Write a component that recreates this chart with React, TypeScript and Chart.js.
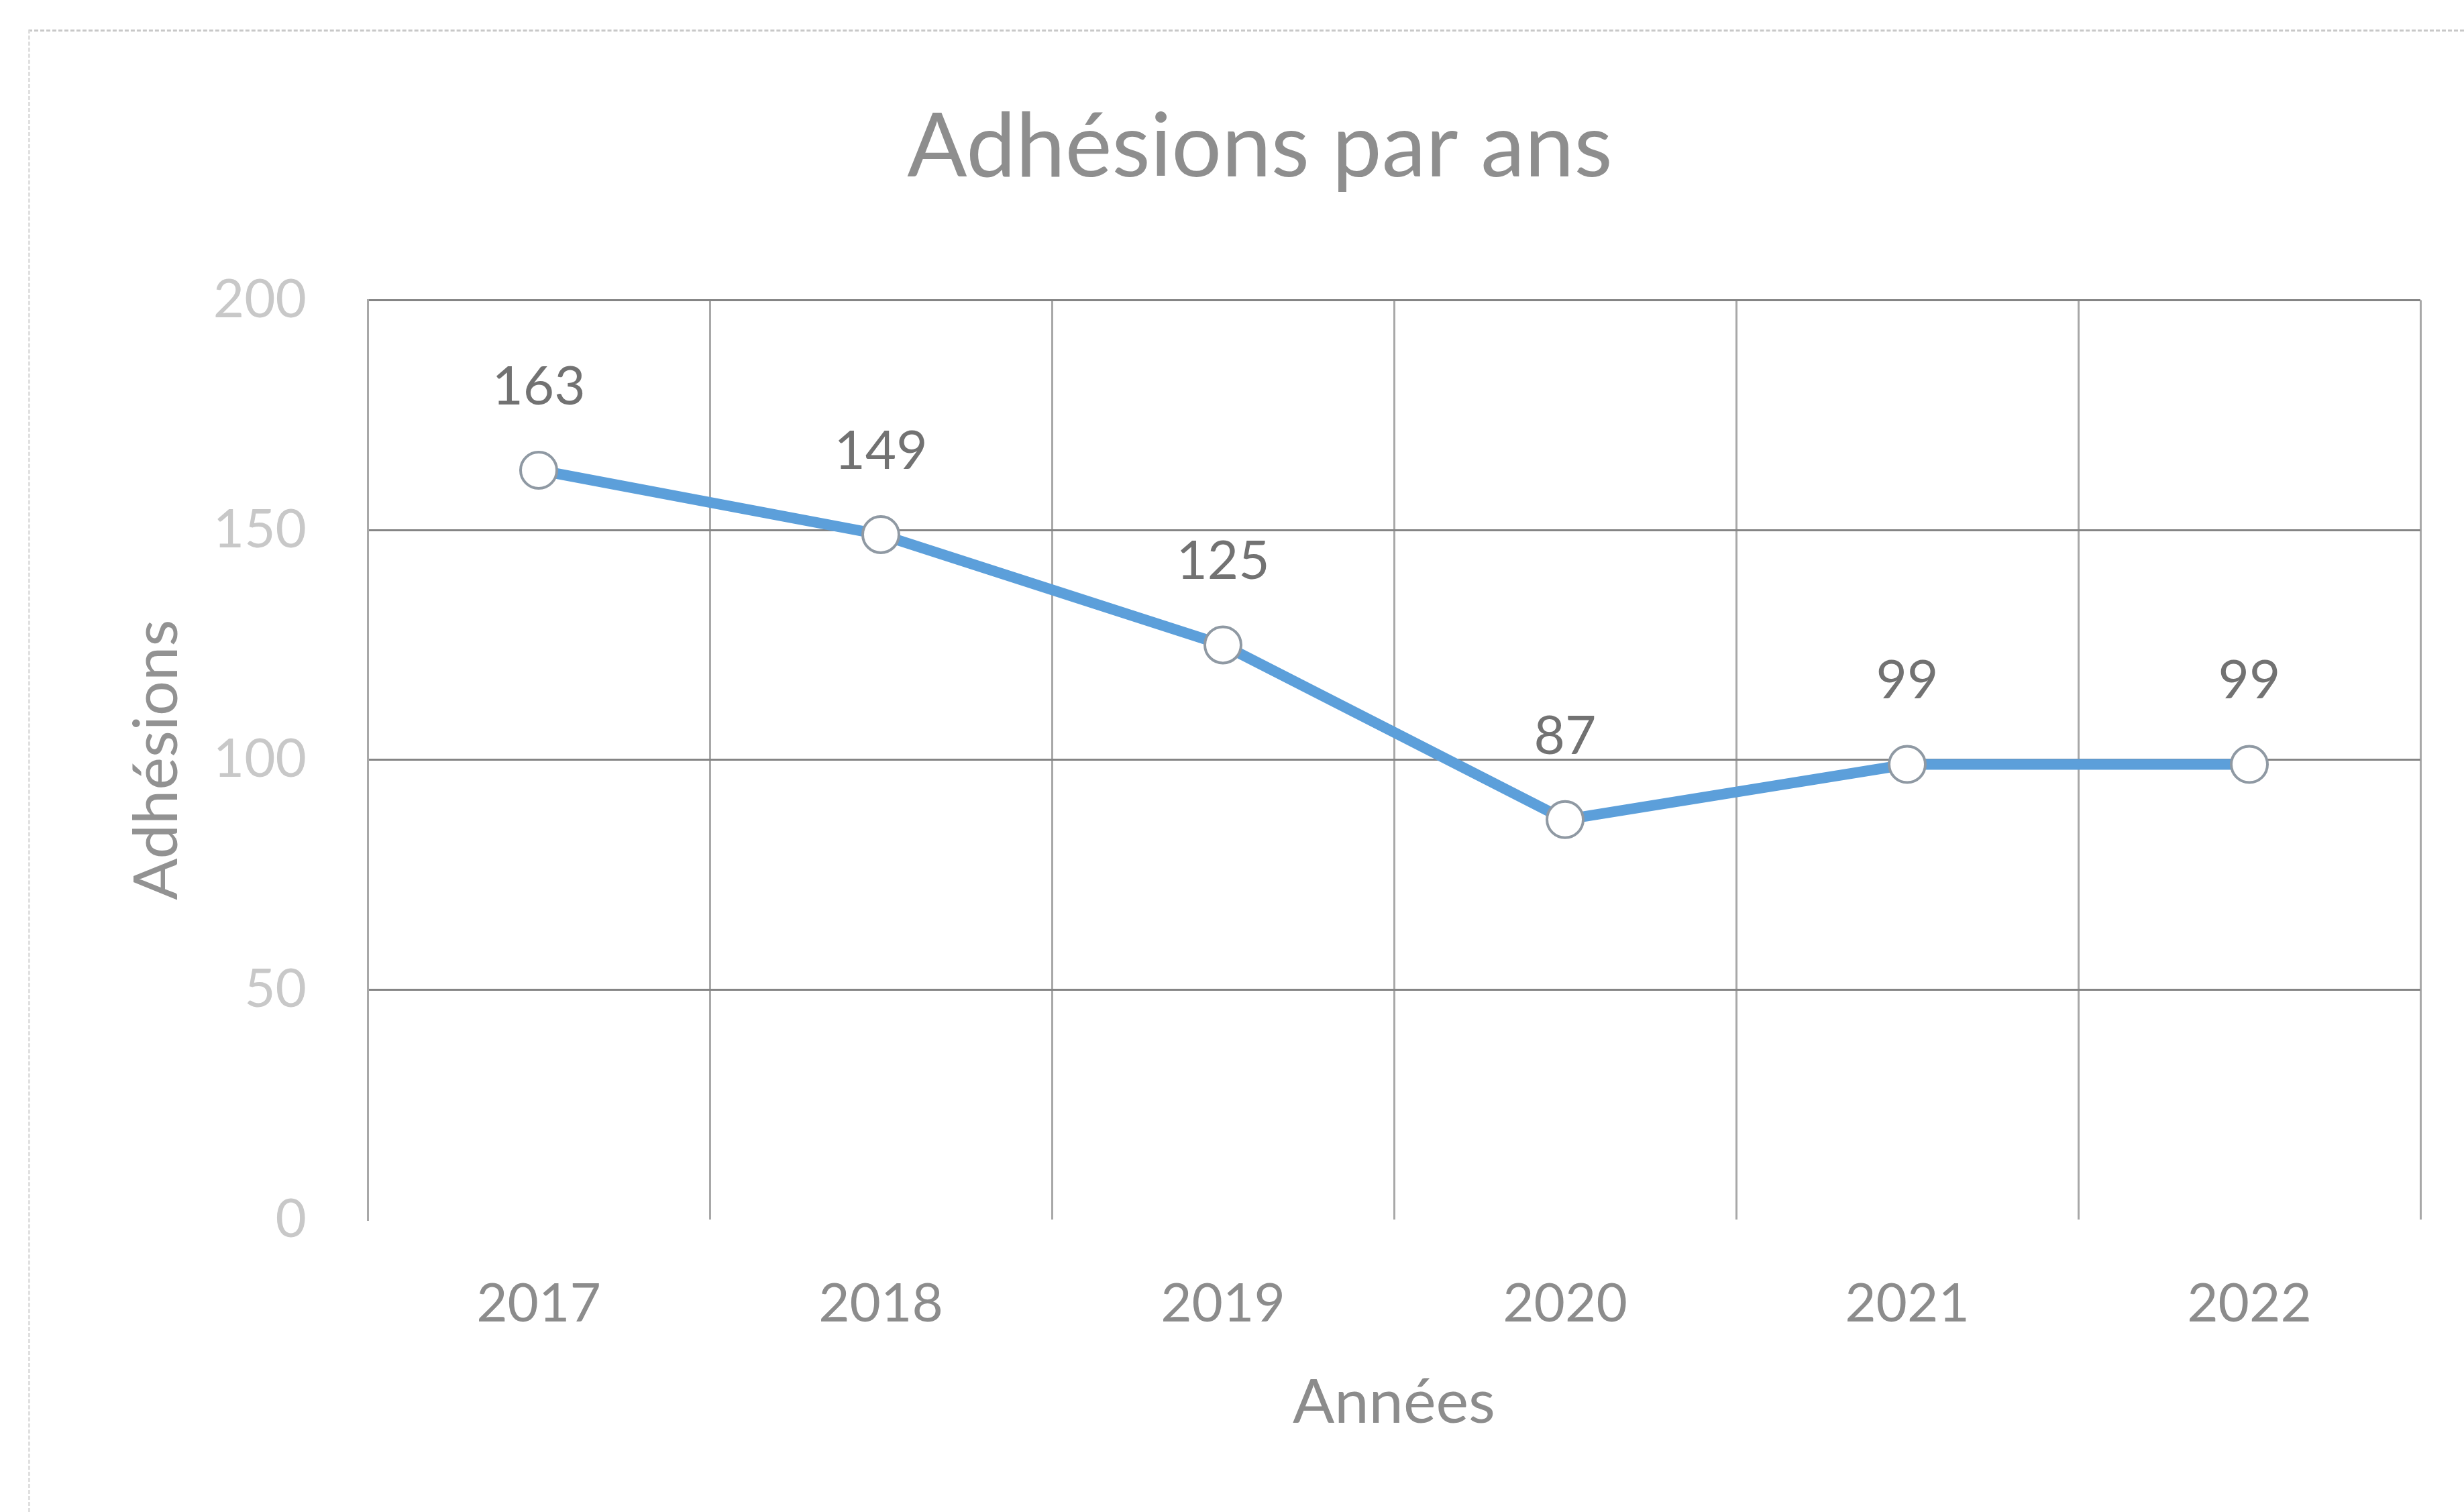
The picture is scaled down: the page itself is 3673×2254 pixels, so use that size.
import React, { useEffect, useRef } from "react";
import { Chart, registerables } from "chart.js";

Chart.register(...registerables);

const categories = ["2017", "2018", "2019", "2020", "2021", "2022"];
const adhesions = [163, 149, 125, 87, 99, 99];
const yTicks = [0, 50, 100, 150, 200];

const chartTitle = "Adhésions par ans";
const xTitle = "Années";
const yTitle = "Adhésions";

const W = 3673;
const H = 2254;
const FONT = "Lato, 'Open Sans', sans-serif";

const dataLabelPlugin = {
  id: "dataLabels",
  afterDatasetsDraw(chart: any) {
    const ctx = chart.ctx;
    const meta = chart.getDatasetMeta(0);
    const ds = chart.data.datasets[0];
    ctx.save();
    ctx.font = `80px ${FONT}`;
    ctx.fillStyle = "#727272";
    ctx.textAlign = "center";
    ctx.textBaseline = "middle";
    meta.data.forEach((el: any, i: number) => {
      ctx.fillText(String(ds.data[i]), el.x, el.y - 124);
    });
    ctx.restore();
  },
};

export default function App() {
  const ref = useRef<HTMLCanvasElement | null>(null);

  useEffect(() => {
    document.body.style.margin = "0";
    if (!ref.current) return;
    const chart = new Chart(ref.current, {
      type: "line",
      data: {
        labels: categories,
        datasets: [
          {
            data: adhesions,
            borderColor: "#5C9FDA",
            borderWidth: 16,
            tension: 0,
            pointRadius: 27,
            pointBackgroundColor: "#ffffff",
            pointBorderColor: "#8f99a3",
            pointBorderWidth: 4,
          },
        ],
      },
      options: {
        animation: false,
        responsive: false,
        devicePixelRatio: 1,
        layout: { padding: { top: 0, left: 148, right: 65, bottom: 0 } },
        plugins: {
          legend: { display: false },
          tooltip: { enabled: false },
          title: {
            display: true,
            text: chartTitle,
            color: "#8e8e8e",
            font: { family: FONT, size: 132, weight: "normal", lineHeight: 1.2 },
            padding: { top: 141, bottom: 148 },
          },
        },
        scales: {
          x: {
            offset: true,
            grid: {
              offset: true,
              color: "#a8a8a8",
              lineWidth: 3,
              drawTicks: false,
            },
            border: { display: false },
            ticks: {
              color: "#8c8c8c",
              font: { family: FONT, size: 80, lineHeight: 1.2 },
              padding: 78,
            },
            title: {
              display: true,
              text: xTitle,
              color: "#8c8c8c",
              font: { family: FONT, size: 92, lineHeight: 1.2 },
              padding: { top: 0, bottom: 107 },
            },
            afterFit(scale: any) {
              scale.height = H - 1818;
            },
          },
          y: {
            min: 0,
            max: 200,
            afterBuildTicks(scale: any) {
              scale.ticks = yTicks.map((v) => ({ value: v }));
            },
            grid: {
              color: (c: any) => (c.tick && c.tick.value === 0 ? "rgba(0,0,0,0)" : "#858585"),
              lineWidth: 3,
              drawTicks: false,
            },
            border: { display: true, color: "#a8a8a8", width: 3 },
            ticks: {
              color: "#c8c8c8",
              font: { family: FONT, size: 80, lineHeight: 1.2 },
              padding: 91,
            },
            title: {
              display: true,
              text: yTitle,
              color: "#929292",
              font: { family: FONT, size: 92, lineHeight: 1.2 },
              padding: { top: 31, bottom: 0 },
            },
            afterFit(scale: any) {
              scale.width = 548 - 148;
            },
          },
        },
      },
      plugins: [dataLabelPlugin],
    });
    return () => chart.destroy();
  }, []);

  return (
    <div style={{ position: "relative", width: W, height: H, background: "#fff" }}>
      <canvas ref={ref} width={W} height={H} style={{ display: "block" }} />
      <div
        style={{
          position: "absolute",
          left: 42,
          top: 44,
          right: 0,
          bottom: 0,
          borderTop: "3px dashed #c8c8c8",
          borderLeft: "3px dashed #e0e0e0",
          pointerEvents: "none",
        }}
      />
    </div>
  );
}
